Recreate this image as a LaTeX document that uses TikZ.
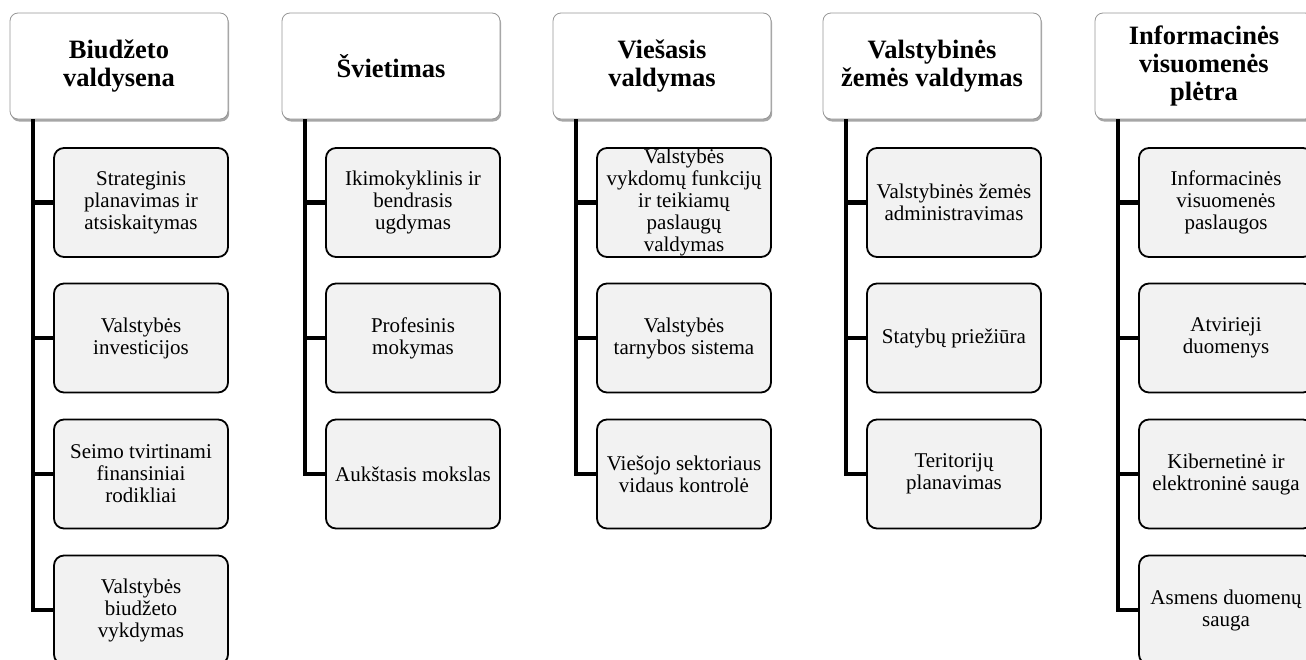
\documentclass[tikz,border=0pt]{standalone}
\usepackage{fontspec}
\setmainfont{Liberation Serif}
\usetikzlibrary{shadows}
\definecolor{boxfill}{RGB}{242,242,242}
\definecolor{headline}{RGB}{150,150,150}
\tikzset{
  headbox/.style={draw=headline, line width=0.8pt, fill=white, rounded corners=8pt,
    minimum width=218pt, minimum height=106pt, inner sep=0pt, align=center,
    font=\bfseries\fontsize{26.5}{28}\selectfont,
    drop shadow={shadow xshift=1.2pt, shadow yshift=-2.5pt, fill=black, opacity=0.35}},
  itembox/.style={draw=black, line width=1.8pt, fill=boxfill, rounded corners=10pt,
    minimum width=174pt, minimum height=109pt, inner sep=0pt, align=center,
    font=\fontsize{21}{22}\selectfont},
  trunk/.style={line width=4.6pt, black}
}
\begin{document}
\begin{tikzpicture}[x=1pt,y=-1pt]
\useasboundingbox (0,0) rectangle (1306,659);
% column headers
\node[headbox] (h1) at (119,66)  {Biudžeto\\valdysena};
\node[headbox] (h2) at (391,66)  {Švietimas};
\node[headbox] (h3) at (662,66)  {Viešasis\\valdymas};
\node[headbox] (h4) at (932,66)  {Valstybinės\\žemės valdymas};
\node[headbox] (h5) at (1204,66) {Informacinės\\visuomenės\\plėtra};
% trunk tops
\coordinate (t1) at (33,119);
\coordinate (t2) at (305,119);
\coordinate (t3) at (576,119);
\coordinate (t4) at (846,119);
\coordinate (t5) at (1118,119);
% column 1
\node[itembox] (c1-1) at (141,202.5) {Strateginis\\planavimas ir\\atsiskaitymas};
\node[itembox] (c1-2) at (141,338)   {Valstybės\\investicijos};
\node[itembox] (c1-3) at (141,474)   {Seimo tvirtinami\\finansiniai\\rodikliai};
\node[itembox] (c1-4) at (141,610)   {Valstybės\\biudžeto\\vykdymas};
% column 2
\node[itembox] (c2-1) at (413,202.5) {Ikimokyklinis ir\\bendrasis\\ugdymas};
\node[itembox] (c2-2) at (413,338)   {Profesinis\\mokymas};
\node[itembox] (c2-3) at (413,474)   {Aukštasis mokslas};
% column 3
\node[itembox] (c3-1) at (684,202.5) {Valstybės\\vykdomų funkcijų\\ir teikiamų\\paslaugų\\valdymas};
\node[itembox] (c3-2) at (684,338)   {Valstybės\\tarnybos sistema};
\node[itembox] (c3-3) at (684,474)   {Viešojo sektoriaus\\vidaus kontrolė};
% column 4
\node[itembox] (c4-1) at (954,202.5) {Valstybinės žemės\\administravimas};
\node[itembox] (c4-2) at (954,338)   {Statybų priežiūra};
\node[itembox] (c4-3) at (954,474)   {Teritorijų\\planavimas};
% column 5
\node[itembox] (c5-1) at (1226,202.5) {Informacinės\\visuomenės\\paslaugos};
\node[itembox] (c5-2) at (1226,338)   {Atvirieji\\duomenys};
\node[itembox] (c5-3) at (1226,474)   {Kibernetinė ir\\elektroninė sauga};
\node[itembox] (c5-4) at (1226,610)   {Asmens duomenų\\sauga};
% connectors
\draw[trunk] (t1) |- (c1-4.west);
\foreach \k in {1,2,3} \draw[trunk] (t1 |- c1-\k.west) -- (c1-\k.west);
\draw[trunk] (t2) |- (c2-3.west);
\foreach \k in {1,2} \draw[trunk] (t2 |- c2-\k.west) -- (c2-\k.west);
\draw[trunk] (t3) |- (c3-3.west);
\foreach \k in {1,2} \draw[trunk] (t3 |- c3-\k.west) -- (c3-\k.west);
\draw[trunk] (t4) |- (c4-3.west);
\foreach \k in {1,2} \draw[trunk] (t4 |- c4-\k.west) -- (c4-\k.west);
\draw[trunk] (t5) |- (c5-4.west);
\foreach \k in {1,2,3} \draw[trunk] (t5 |- c5-\k.west) -- (c5-\k.west);
\end{tikzpicture}
\end{document}
